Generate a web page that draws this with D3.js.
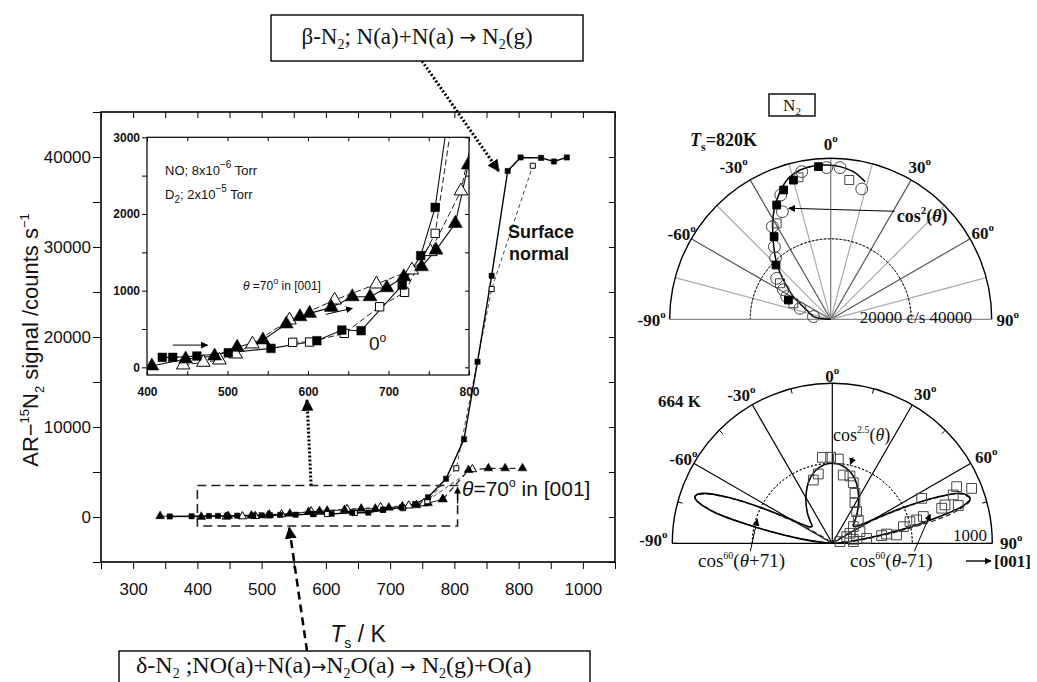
<!DOCTYPE html>
<html>
<head>
<meta charset="utf-8">
<script src="https://cdn.jsdelivr.net/npm/d3@7/dist/d3.min.js"></script>
<style>
  body { margin: 0; background: #fff; }
  svg text { font-family: "Liberation Sans", Arial, sans-serif; fill: #111; }
  svg text.serif { font-family: "Liberation Serif", "Times New Roman", serif; }
  svg tspan.arrow { font-family: "DejaVu Sans", sans-serif; }
</style>
</head>
<body>
<div id="chart-area"></div>
<script>
/*
*    N2 desorption: temperature dependence + angular distributions
*/

// ---------- main panel data: [T (K), signal (counts/s)] ----------
var mainNormalFilled = [[357,60],[391,80],[418,110],[432,120],[446,130],[462,147],[487,170],[500,190],[513,200],[529,230],[553,250],[580,320],[609,350],[641,480],[666,480],[689,800],[718,1070],[739,1450],[759,2190],[787,4250],[815,8630],[836,17250],[858,26800],[883,38450],[903,39950],[935,39900],[955,39500],[975,39950]];
var mainNormalOpen = [[581,330],[602,330],[645,440],[689,790],[720,980],[758,1750],[803,5410],[858,25330],[922,39030]];
var mainTiltFilled = [[342,100],[406,20],[448,110],[484,150],[512,260],[544,360],[573,560],[590,660],[602,700],[629,780],[655,920],[677,920],[698,1040],[719,1180],[741,1310],[759,1530],[782,1970]];
var mainTiltHigh = [[782,1970],[822,5220],[853,5410],[879,5410],[906,5410]];
var mainTiltOpen = [[445,30],[470,65],[490,95],[510,170],[531,300],[577,620],[633,880],[685,1090],[729,1270],[752,1510],[828,5300]];
var xTickLabels = ["300","400","500","600","700","800","800","1000"];
var yTickLabels = ["0","10000","20000","30000","40000"];

// ---------- inset data: [T (K), signal (counts/s)] ----------
var insTriFilled = [[406,17],[448,108],[484,147],[512,261],[544,356],[573,565],[590,660],[602,704],[629,782],[655,920],[677,920],[698,1038],[719,1181],[741,1312],[759,1529],[783,1877],[799,2640],[812,3600]];
var insTriOpen = [[445,30],[470,65],[490,95],[510,173],[531,304],[577,617],[633,877],[685,1086],[729,1269],[752,1508],[790,2300],[810,3300]];
var insSqFilled = [[419,130],[432,130],[462,147],[501,190],[554,247],[611,347],[642,486],[666,478],[717,1073],[740,1456],[758,2086],[787,4256]];
var insSqOpen = [[581,326],[602,330],[645,443],[689,790],[720,978],[758,1747],[790,4000]];
var insTickLabels = ["0","1000","2000","3000"];

// ---------- polar 820 K: [angle (deg), signal (c/s)] ----------
var fit820 = [[-90,0],[-85,2300],[-81,4300],[-68.8,6400],[-58.7,10850],[-50.3,15280],[-44,19320],[-37,23650],[-31.1,27870],[-27.4,30580],[-22.2,33790],[-16.7,36570],[-11.6,37860],[-6.4,38330],[-1.5,38350],[3.5,38000],[8.7,37110],[14,35250]];
var sq820Filled = [[-25.3,31400],[-15,35800],[-4.6,38050],[-34.4,24900],[-45.2,19150],[-65.5,11550],[-20,34200]];
var circ820 = [[-24.2,29300],[-37.8,22830],[-52.8,16840],[-62.7,12300],[-70.3,8100],[-81,4350],[-11.1,37380],[-1.5,37700],[3.5,37750],[13.4,33280],[-21.9,33280],[-32.2,27200],[-42,20500],[-58,13900]];
var sq820Open = [[7.6,34920],[-12.8,36170],[-29.4,27350],[-54.6,15450],[-66.8,10090]];

// ---------- polar 664 K: [angle (deg), signal] ----------
var fit664 = [[-90,0],[-86,40],[-82,200],[-78,500],[-75,780],[-72,900],[-71,906],[-69,870],[-66,700],[-63,470],[-60,300],[-57,210],[-54,175],[-50,165],[-45,195],[-40,240],[-30,330],[-20,420],[-10,480],[0,500],[10,480],[20,420],[30,330],[40,240],[45,200],[50,170],[54,180],[57,215],[60,300],[63,480],[66,700],[69,870],[72,906],[74,850],[77,600],[80,350],[84,110],[88,20],[90,0]];
var lobeLeft664 = [[-88,5],[-86,30],[-82,190],[-78,490],[-75,770],[-72,900],[-71,906],[-69,860],[-66,690],[-63,450],[-60,250],[-57,110],[-54,40],[-50,8],[-46,0]];
var lobeRight664 = [[46,0],[50,8],[54,40],[57,110],[60,250],[63,450],[66,690],[69,860],[72,906],[73,900],[76,770],[79,490],[83,190],[87,30],[89,5]];
var sq664 = [[-6.6,541],[-1.1,538],[4.1,528],[-11.4,442],[-16.7,413],[9.1,432],[14.7,435],[19.1,401],[24.4,343],[29.1,291],[37.5,250],[48.1,218],[51.5,168],[60.5,127],[67.1,188],[79.2,134],[81.7,217],[81.1,312],[80.3,344],[82.6,405],[76.8,456],[74.4,504],[74.5,547],[73.6,593],[63.3,625],[72.2,718],[71.2,744],[68.2,814],[65.5,854],[68.5,936],[73.3,822],[77.8,49],[85.4,132],[65,99]];

var svg = d3.select("#chart-area").append("svg")
  .attr("width", 1037)
  .attr("height", 682)
  .style("background", "#fff");

var defs = svg.append("defs");
defs.append("marker")
  .attr("id", "head")
  .attr("viewBox", "0 0 10 10")
  .attr("refX", 9).attr("refY", 5)
  .attr("markerWidth", 7).attr("markerHeight", 7)
  .attr("markerUnits", "userSpaceOnUse")
  .attr("orient", "auto")
  .append("path").attr("d", "M0,0L10,5L0,10z").attr("fill", "#000");
defs.append("marker")
  .attr("id", "bighead")
  .attr("viewBox", "0 0 10 10")
  .attr("refX", 9).attr("refY", 5)
  .attr("markerWidth", 12).attr("markerHeight", 12)
  .attr("markerUnits", "userSpaceOnUse")
  .attr("orient", "auto")
  .append("path").attr("d", "M0,0L10,5L0,10z").attr("fill", "#000");

/******************************** Main panel ********************************/

var x = d3.scaleLinear().domain([250, 1050]).range([101, 615]);
var y = d3.scaleLinear().domain([-5000, 45000]).range([562, 112]);

var main = svg.append("g").attr("class", "main");

// axes
var xBottom = d3.axisBottom(x)
  .tickValues(d3.range(250, 1051, 50))
  .tickSize(7).tickPadding(14)
  .tickFormat(function(d) {
    if (d % 100 !== 0 || d < 300 || d > 1000) return "";
    return xTickLabels[(d - 300) / 100];
  });
main.append("g")
  .attr("transform", "translate(0,562)")
  .call(xBottom)
  .call(function(g) { g.select(".domain").remove(); })
  .selectAll("text").attr("font-size", "17px");

var yLeft = d3.axisLeft(y)
  .tickValues(d3.range(-5000, 45001, 5000))
  .tickSize(8).tickPadding(2)
  .tickFormat(function(d) {
    if (d % 10000 !== 0 || d < 0) return "";
    return yTickLabels[d / 10000];
  });
main.append("g")
  .attr("transform", "translate(101,0)")
  .call(yLeft)
  .call(function(g) { g.select(".domain").remove(); })
  .selectAll("text").attr("font-size", "17px");

main.append("g")
  .attr("transform", "translate(0,112)")
  .call(d3.axisTop(x).tickValues(d3.range(250, 1051, 50)).tickSize(-6).tickFormat(""))
  .call(function(g) { g.select(".domain").remove(); });
main.append("g")
  .attr("transform", "translate(615,0)")
  .call(d3.axisRight(y).tickValues(d3.range(-5000, 45001, 5000)).tickSize(-6).tickFormat(""))
  .call(function(g) { g.select(".domain").remove(); });

main.append("rect")
  .attr("x", 101).attr("y", 112)
  .attr("width", 514).attr("height", 450)
  .attr("fill", "none").attr("stroke", "#000").attr("stroke-width", 1.6);

// axis titles
var yTitle = main.append("text")
  .attr("transform", "translate(38,340) rotate(-90)")
  .attr("text-anchor", "middle")
  .attr("font-size", "22px");
yTitle.append("tspan").text("AR\u2212");
yTitle.append("tspan").attr("font-size", "13px").attr("dy", -9).text("15");
yTitle.append("tspan").attr("dy", 9).text("N");
yTitle.append("tspan").attr("font-size", "13px").attr("dy", 6).text("2");
yTitle.append("tspan").attr("dy", -6).text(" signal /counts s");
yTitle.append("tspan").attr("font-size", "13px").attr("dy", -9).text("\u22121");

var xTitle = main.append("text")
  .attr("x", 358).attr("y", 642)
  .attr("text-anchor", "middle")
  .attr("font-size", "23px");
xTitle.append("tspan").attr("font-style", "italic").text("T");
xTitle.append("tspan").attr("font-size", "14px").attr("dy", 6).text("s");
xTitle.append("tspan").attr("dy", -6).text(" / K");

// series
var lineMain = d3.line()
  .x(function(d) { return x(d[0]); })
  .y(function(d) { return y(d[1]); });

main.append("path").attr("d", lineMain(mainNormalOpen))
  .attr("fill", "none").attr("stroke", "#333").attr("stroke-width", 0.9).attr("stroke-dasharray", "4,3");
main.append("path").attr("d", lineMain(mainTiltOpen))
  .attr("fill", "none").attr("stroke", "#333").attr("stroke-width", 0.9).attr("stroke-dasharray", "4,3");
main.append("path").attr("d", lineMain(mainTiltFilled))
  .attr("fill", "none").attr("stroke", "#222").attr("stroke-width", 1);
main.append("path").attr("d", lineMain(mainTiltHigh))
  .attr("fill", "none").attr("stroke", "#222").attr("stroke-width", 1.2).attr("stroke-dasharray", "6,4");
main.append("path").attr("d", lineMain(mainNormalFilled))
  .attr("fill", "none").attr("stroke", "#000").attr("stroke-width", 1.4);

function drawMarkers(g, data, sx, sy, type, size, filled) {
  g.selectAll(null)
    .data(data)
    .enter().append("path")
    .attr("transform", function(d) { return "translate(" + sx(d[0]) + "," + sy(d[1]) + ")"; })
    .attr("d", d3.symbol().type(type).size(size))
    .attr("fill", filled ? "#000" : "#fff")
    .attr("stroke", "#000")
    .attr("stroke-width", filled ? 0.5 : 1);
}

drawMarkers(main, mainTiltOpen, x, y, d3.symbolTriangle, 30, false);
drawMarkers(main, mainTiltFilled, x, y, d3.symbolTriangle, 34, true);
drawMarkers(main, mainTiltHigh, x, y, d3.symbolTriangle, 34, true);
drawMarkers(main, mainNormalOpen, x, y, d3.symbolSquare, 26, false);
drawMarkers(main, mainNormalFilled, x, y, d3.symbolSquare, 28, true);

// annotations in the main panel
main.append("rect")
  .attr("x", x(400)).attr("y", y(3500))
  .attr("width", x(805) - x(400)).attr("height", y(-1000) - y(3500))
  .attr("fill", "none").attr("stroke", "#222").attr("stroke-width", 1.6)
  .attr("stroke-dasharray", "9,5");
main.append("line")
  .attr("x1", x(805)).attr("y1", y(1500)).attr("x2", x(805)).attr("y2", y(3300))
  .attr("stroke", "#000").attr("stroke-width", 1.2).attr("marker-end", "url(#head)");

var sn = main.append("g").attr("font-size", "18px").attr("font-weight", "bold");
sn.append("text").attr("x", 508).attr("y", 238).text("Surface");
sn.append("text").attr("x", 509).attr("y", 260).text("normal");

var th = main.append("text").attr("x", 462).attr("y", 496).attr("font-size", "21px");
th.append("tspan").attr("font-style", "italic").text("\u03b8");
th.append("tspan").text("=70");
th.append("tspan").attr("font-size", "12px").attr("dy", -9).text("o");
th.append("tspan").attr("dy", 9).text(" in [001]");

/******************************** Inset ********************************/

var xi = d3.scaleLinear().domain([400, 800]).range([147, 469]);
var yi = d3.scaleLinear().domain([-100, 3000]).range([375, 137.3]);

var inset = svg.append("g").attr("class", "inset");
inset.append("rect")
  .attr("x", 147).attr("y", 137.3)
  .attr("width", 322).attr("height", 237.7)
  .attr("fill", "#fff");

defs.append("clipPath").attr("id", "inset-clip")
  .append("rect").attr("x", 147).attr("y", 137.3).attr("width", 322).attr("height", 237.7);

inset.append("g")
  .attr("transform", "translate(0,375)")
  .call(d3.axisBottom(xi).tickValues(d3.range(400, 801, 50)).tickSize(-4).tickPadding(12)
    .tickFormat(function(d) { return d % 100 === 0 ? d : ""; }))
  .call(function(g) { g.select(".domain").remove(); })
  .selectAll("text").attr("font-size", "12px").attr("font-weight", "bold");
inset.append("g")
  .attr("transform", "translate(147,0)")
  .call(d3.axisLeft(yi).tickValues(d3.range(0, 3001, 500)).tickSize(5).tickPadding(2)
    .tickFormat(function(d) { return d % 1000 === 0 ? insTickLabels[d / 1000] : ""; }))
  .call(function(g) { g.select(".domain").remove(); })
  .selectAll("text").attr("font-size", "12px").attr("font-weight", "bold");
inset.append("g")
  .attr("transform", "translate(0,137.3)")
  .call(d3.axisTop(xi).tickValues(d3.range(400, 801, 50)).tickSize(-4).tickFormat(""))
  .call(function(g) { g.select(".domain").remove(); });
inset.append("g")
  .attr("transform", "translate(469,0)")
  .call(d3.axisRight(yi).tickValues(d3.range(0, 3001, 500)).tickSize(-4).tickFormat(""))
  .call(function(g) { g.select(".domain").remove(); });

var insPlot = inset.append("g").attr("clip-path", "url(#inset-clip)");
var lineIns = d3.line()
  .x(function(d) { return xi(d[0]); })
  .y(function(d) { return yi(d[1]); });

insPlot.append("path").attr("d", lineIns(insTriOpen))
  .attr("fill", "none").attr("stroke", "#222").attr("stroke-width", 1).attr("stroke-dasharray", "6,3");
insPlot.append("path").attr("d", lineIns(insSqOpen))
  .attr("fill", "none").attr("stroke", "#222").attr("stroke-width", 1).attr("stroke-dasharray", "6,3");
insPlot.append("path").attr("d", lineIns(insTriFilled))
  .attr("fill", "none").attr("stroke", "#111").attr("stroke-width", 1.1);
insPlot.append("path").attr("d", lineIns(insSqFilled))
  .attr("fill", "none").attr("stroke", "#111").attr("stroke-width", 1.1);

drawMarkers(insPlot, insTriOpen, xi, yi, d3.symbolTriangle, 80, false);
drawMarkers(insPlot, insSqOpen, xi, yi, d3.symbolSquare, 70, false);
drawMarkers(insPlot, insTriFilled, xi, yi, d3.symbolTriangle, 85, true);
drawMarkers(insPlot, insSqFilled, xi, yi, d3.symbolSquare, 75, true);

inset.append("rect")
  .attr("x", 147).attr("y", 137.3)
  .attr("width", 322).attr("height", 237.7)
  .attr("fill", "none").attr("stroke", "#000").attr("stroke-width", 1.2);

var t1 = inset.append("text").attr("x", 165).attr("y", 175).attr("font-size", "13px");
t1.append("tspan").text("NO; 8x10");
t1.append("tspan").attr("font-size", "10px").attr("dy", -7).text("\u22126");
t1.append("tspan").attr("dy", 7).text(" Torr");
var t2 = inset.append("text").attr("x", 165).attr("y", 199).attr("font-size", "13px");
t2.append("tspan").text("D");
t2.append("tspan").attr("font-size", "10px").attr("dy", 4).text("2");
t2.append("tspan").attr("dy", -4).text("; 2x10");
t2.append("tspan").attr("font-size", "10px").attr("dy", -7).text("\u22125");
t2.append("tspan").attr("dy", 7).text(" Torr");

var t3 = inset.append("text").attr("x", 243).attr("y", 290).attr("font-size", "12px");
t3.append("tspan").attr("font-style", "italic").text("\u03b8");
t3.append("tspan").text(" =70");
t3.append("tspan").attr("font-size", "9px").attr("dy", -6).text("o");
t3.append("tspan").attr("dy", 6).text(" in [001]");

var t4 = inset.append("text").attr("x", 369).attr("y", 350).attr("font-size", "19px");
t4.append("tspan").text("0");
t4.append("tspan").attr("font-size", "12px").attr("dy", -8).text("o");

inset.append("line")
  .attr("x1", xi(432)).attr("y1", yi(290)).attr("x2", xi(475)).attr("y2", yi(290))
  .attr("stroke", "#000").attr("stroke-width", 1).attr("marker-end", "url(#head)");
inset.append("line")
  .attr("x1", xi(622)).attr("y1", yi(690)).attr("x2", xi(655)).attr("y2", yi(770))
  .attr("stroke", "#000").attr("stroke-width", 1).attr("marker-end", "url(#head)");

// arrows linking the boxes / inset / main panel
svg.append("line")
  .attr("x1", x(577)).attr("y1", y(3500))
  .attr("x2", xi(600) - 1).attr("y2", 400)
  .attr("stroke", "#000").attr("stroke-width", 3).attr("stroke-dasharray", "2,2")
  .attr("marker-end", "url(#bighead)");
svg.append("line")
  .attr("x1", 307).attr("y1", 651)
  .attr("x2", x(543)).attr("y2", y(-1200))
  .attr("stroke", "#000").attr("stroke-width", 2.5).attr("stroke-dasharray", "8,5")
  .attr("marker-end", "url(#bighead)");
svg.append("line")
  .attr("x1", 422).attr("y1", 61)
  .attr("x2", x(883) - 9).attr("y2", y(38450))
  .attr("stroke", "#000").attr("stroke-width", 3).attr("stroke-dasharray", "2,2")
  .attr("marker-end", "url(#bighead)");

// reaction boxes
svg.append("rect").attr("x", 271).attr("y", 15).attr("width", 312).attr("height", 46)
  .attr("fill", "#fff").attr("stroke", "#000").attr("stroke-width", 1.4);
var b1 = svg.append("text").attr("class", "serif")
  .attr("x", 417).attr("y", 44).attr("text-anchor", "middle").attr("font-size", "23px");
b1.append("tspan").text("\u03b2-N");
b1.append("tspan").attr("font-size", "14px").attr("dy", 5).text("2");
b1.append("tspan").attr("dy", -5).text("; N(a)+N(a) ");
b1.append("tspan").attr("class", "arrow").attr("font-size", "20px").text("\u2192");
b1.append("tspan").text(" N");
b1.append("tspan").attr("font-size", "14px").attr("dy", 5).text("2");
b1.append("tspan").attr("dy", -5).text("(g)");

svg.append("rect").attr("x", 119).attr("y", 651).attr("width", 471).attr("height", 60)
  .attr("fill", "#fff").attr("stroke", "#000").attr("stroke-width", 1.4);
var b2 = svg.append("text").attr("class", "serif")
  .attr("x", 136).attr("y", 673).attr("font-size", "24px");
b2.append("tspan").text("\u03b4-N");
b2.append("tspan").attr("font-size", "14px").attr("dy", 5).text("2");
b2.append("tspan").attr("dy", -5).text(" ;NO(a)+N(a)");
b2.append("tspan").attr("class", "arrow").attr("font-size", "18px").text("\u2192");
b2.append("tspan").text("N");
b2.append("tspan").attr("font-size", "14px").attr("dy", 5).text("2");
b2.append("tspan").attr("dy", -5).text("O(a) ");
b2.append("tspan").attr("class", "arrow").attr("font-size", "18px").text("\u2192");
b2.append("tspan").text(" N");
b2.append("tspan").attr("font-size", "14px").attr("dy", 5).text("2");
b2.append("tspan").attr("dy", -5).text("(g)+O(a)");

/******************************** Polar plots ********************************/

var rad = Math.PI / 180;

function degLabel(g, cx, cy, txt, anchor) {
  var t = g.append("text").attr("class", "serif")
    .attr("x", cx).attr("y", cy)
    .attr("text-anchor", anchor || "middle")
    .attr("font-size", "17px").attr("font-weight", "bold");
  t.append("tspan").text(txt);
  t.append("tspan").attr("font-size", "11px").attr("dy", -8).text("o");
  return t;
}

function polarFrame(g, R, spokeStyle) {
  // spokes
  d3.range(-75, 76, 15).forEach(function(a) {
    var st = spokeStyle(a);
    if (!st) return;
    g.append("line")
      .attr("x1", 0).attr("y1", 0)
      .attr("x2", R * Math.sin(a * rad)).attr("y2", -R * Math.cos(a * rad))
      .attr("stroke", st).attr("stroke-width", 1.2);
  });
  // half circles
  var arc = d3.arc().startAngle(-Math.PI / 2).endAngle(Math.PI / 2);
  g.append("path").attr("d", arc({ innerRadius: R / 2, outerRadius: R / 2 }))
    .attr("fill", "none").attr("stroke", "#000").attr("stroke-width", 0.9).attr("stroke-dasharray", "2,2");
  g.append("path").attr("d", arc({ innerRadius: R, outerRadius: R }))
    .attr("fill", "none").attr("stroke", "#000").attr("stroke-width", 1.4);
}

// ---- 820 K ----
var r820 = d3.scaleLinear().domain([0, 40000]).range([0, 161]);
var p1 = svg.append("g").attr("transform", "translate(830.7,319.3)");
polarFrame(p1, 161, function(a) {
  if (a === 0) return "#777";
  return (a % 30 === 0) ? "#555" : "#aaa";
});
p1.append("line").attr("x1", -161).attr("x2", 161).attr("y1", 0).attr("y2", 0)
  .attr("stroke", "#888").attr("stroke-width", 1.2);

var radial820 = d3.lineRadial()
  .angle(function(d) { return d[0] * rad; })
  .radius(function(d) { return r820(d[1]); })
  .curve(d3.curveCatmullRom);
p1.append("path").attr("d", radial820(fit820))
  .attr("fill", "none").attr("stroke", "#000").attr("stroke-width", 1.5);

function polarMarkers(g, data, rs, type, size, filled) {
  g.selectAll(null).data(data).enter().append("path")
    .attr("transform", function(d) {
      var r = rs(d[1]);
      return "translate(" + (r * Math.sin(d[0] * rad)) + "," + (-r * Math.cos(d[0] * rad)) + ")";
    })
    .attr("d", d3.symbol().type(type).size(size))
    .attr("fill", filled ? "#000" : "none")
    .attr("stroke", filled ? "#000" : "#444")
    .attr("stroke-width", 1);
}
polarMarkers(p1, circ820, r820, d3.symbolCircle, 110, false);
polarMarkers(p1, sq820Open, r820, d3.symbolSquare, 80, false);
polarMarkers(p1, sq820Filled, r820, d3.symbolSquare, 60, true);

degLabel(p1, 0, -169, "0");
degLabel(p1, -97, -146, "-30");
degLabel(p1, 89, -146, "30");
degLabel(p1, -149, -79, "-60");
degLabel(p1, 152, -80, "60");
degLabel(p1, -179, 7, "-90");
degLabel(p1, 177, 7, "90");

p1.append("text").attr("class", "serif")
  .attr("x", 29).attr("y", 4).attr("font-size", "17px")
  .text("20000 c/s  40000");

var c2 = p1.append("text").attr("class", "serif")
  .attr("x", 66).attr("y", -97).attr("font-size", "18px").attr("font-weight", "bold");
c2.append("tspan").text("cos");
c2.append("tspan").attr("font-size", "11px").attr("dy", -8).text("2");
c2.append("tspan").attr("dy", 8).text("(");
c2.append("tspan").attr("font-style", "italic").text("\u03b8");
c2.append("tspan").text(")");
p1.append("line").attr("x1", 64).attr("y1", -108).attr("x2", -42).attr("y2", -111)
  .attr("stroke", "#000").attr("stroke-width", 1.1).attr("marker-end", "url(#head)");

var tsLab = svg.append("text").attr("class", "serif")
  .attr("x", 690).attr("y", 146).attr("font-size", "18px").attr("font-weight", "bold");
tsLab.append("tspan").attr("font-style", "italic").text("T");
tsLab.append("tspan").attr("font-size", "12px").attr("dy", 5).text("s");
tsLab.append("tspan").attr("dy", -5).text("=820K");

svg.append("rect").attr("x", 769).attr("y", 94).attr("width", 46).attr("height", 22)
  .attr("fill", "#fff").attr("stroke", "#000").attr("stroke-width", 1.4);
var n2 = svg.append("text").attr("class", "serif")
  .attr("x", 792).attr("y", 111).attr("text-anchor", "middle").attr("font-size", "17px");
n2.append("tspan").text("N");
n2.append("tspan").attr("font-size", "11px").attr("dy", 4).text("2");

// ---- 664 K ----
var r664 = d3.scaleLinear().domain([0, 1000]).range([0, 160]);
var p2 = svg.append("g").attr("transform", "translate(832.3,543.3)");
polarFrame(p2, 160, function(a) { return (a % 30 === 0) ? "#000" : null; });
p2.append("line").attr("x1", -160).attr("x2", 160).attr("y1", 0).attr("y2", 0)
  .attr("stroke", "#000").attr("stroke-width", 1.2);
// small ticks on the outer arc
d3.range(-90, 91, 15).forEach(function(a) {
  if (a % 30 === 0 && Math.abs(a) !== 90) return;
  p2.append("line")
    .attr("x1", 160 * Math.sin(a * rad)).attr("y1", -160 * Math.cos(a * rad))
    .attr("x2", 155 * Math.sin(a * rad)).attr("y2", -155 * Math.cos(a * rad))
    .attr("stroke", "#000").attr("stroke-width", 1);
});

var radial664 = d3.lineRadial()
  .angle(function(d) { return d[0] * rad; })
  .radius(function(d) { return r664(d[1]); })
  .curve(d3.curveCatmullRom);
p2.append("path").attr("d", radial664(lobeLeft664))
  .attr("fill", "none").attr("stroke", "#333").attr("stroke-width", 1.2).attr("stroke-dasharray", "5,3");
p2.append("path").attr("d", radial664(lobeRight664))
  .attr("fill", "none").attr("stroke", "#333").attr("stroke-width", 1.2).attr("stroke-dasharray", "5,3");
p2.append("path").attr("d", radial664(fit664))
  .attr("fill", "none").attr("stroke", "#000").attr("stroke-width", 1.6);
polarMarkers(p2, sq664, r664, d3.symbolSquare, 95, false);

degLabel(p2, 0, -161, "0");
degLabel(p2, -91, -142, "-30");
degLabel(p2, 93, -143, "30");
degLabel(p2, -149, -78, "-60");
degLabel(p2, 154, -80, "60");
degLabel(p2, -179, 3, "-90");
degLabel(p2, 179, 6, "90");

svg.append("text").attr("class", "serif")
  .attr("x", 658).attr("y", 407).attr("font-size", "17px").attr("font-weight", "bold")
  .text("664 K");
svg.append("text").attr("class", "serif")
  .attr("x", 953).attr("y", 541).attr("font-size", "17px")
  .text("1000");

function cosLabel(g, px, py, pw, tail, fs) {
  var t = g.append("text").attr("class", "serif")
    .attr("x", px).attr("y", py).attr("font-size", fs + "px");
  t.append("tspan").text("cos");
  t.append("tspan").attr("font-size", "10px").attr("dy", -8).text(pw);
  t.append("tspan").attr("dy", 8).text("(");
  t.append("tspan").attr("font-style", "italic").text("\u03b8");
  t.append("tspan").text(tail);
}
cosLabel(svg, 698, 567, "60", "+71)", 19);
cosLabel(svg, 850, 567, "60", "-71)", 19);
cosLabel(svg, 833, 441, "2.5", ")", 18);

p2.append("line").attr("x1", 21).attr("y1", -86).attr("x2", 18).attr("y2", -79)
  .attr("stroke", "#000").attr("stroke-width", 1).attr("marker-end", "url(#head)");
p2.append("line").attr("x1", -82).attr("y1", 8).attr("x2", -75).attr("y2", -24)
  .attr("stroke", "#000").attr("stroke-width", 1).attr("marker-end", "url(#head)");
p2.append("line").attr("x1", 82).attr("y1", 8).attr("x2", 98).attr("y2", -29)
  .attr("stroke", "#000").attr("stroke-width", 1).attr("marker-end", "url(#head)");

svg.append("line").attr("x1", 966).attr("y1", 561).attr("x2", 991).attr("y2", 561)
  .attr("stroke", "#000").attr("stroke-width", 1.4).attr("marker-end", "url(#head)");
svg.append("text").attr("class", "serif")
  .attr("x", 994).attr("y", 567).attr("font-size", "17px").attr("font-weight", "bold")
  .text("[001]");
</script>
</body>
</html>
